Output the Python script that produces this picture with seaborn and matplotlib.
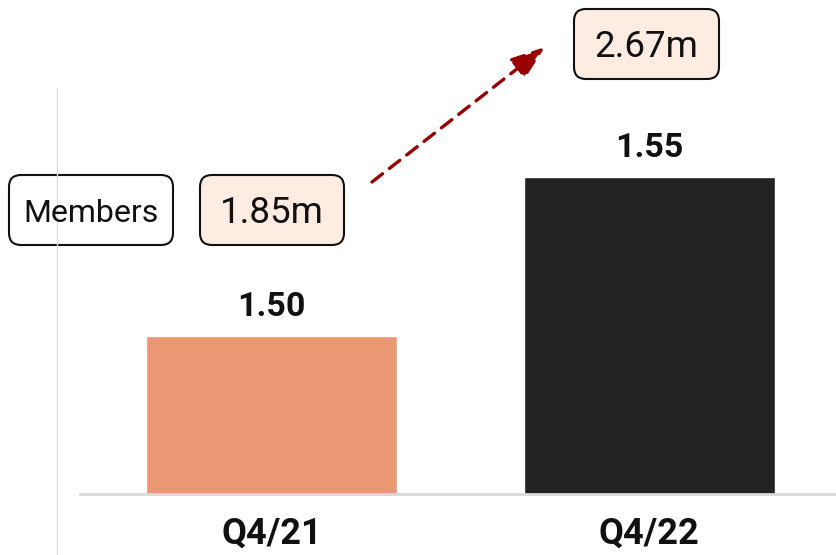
import matplotlib
matplotlib.use("Agg")
import matplotlib.pyplot as plt
from matplotlib import font_manager
from matplotlib.patches import FancyBboxPatch
from matplotlib.lines import Line2D
from matplotlib.transforms import IdentityTransform
import seaborn as sns

# ---- data ----
quarters = ["Q4/21", "Q4/22"]
values = [1.50, 1.55]
value_labels = ["1.50", "1.55"]
bar_colors = ["#EA9874", "#222222"]
legend_label = "Members"
members_start = "1.85m"
members_end = "2.67m"

sns.set_theme(style="white")
plt.rcParams["font.family"] = ["Roboto", "DejaVu Sans"]

names = {f.name for f in font_manager.fontManager.ttflist}
narrow = "Liberation Sans Narrow" if "Liberation Sans Narrow" in names else "Roboto"

W, H = 836, 555
fig = plt.figure(figsize=(W / 100, H / 100), dpi=100)
ax = fig.add_axes([80 / W, (H - 493.5) / H, (W - 80) / W, 493.5 / H])

sns.barplot(x=quarters, y=values, hue=quarters, palette=bar_colors,
            width=0.665, ax=ax, legend=False, saturation=1)
ax.set_xlim(-0.507, 1.495)
ax.set_ylim(1.4506, 1.6058)

for s in ["top", "right", "left"]:
    ax.spines[s].set_visible(False)
ax.spines["bottom"].set_color("#d9d9d9")
ax.spines["bottom"].set_linewidth(2)
ax.set_yticks([])
ax.set_xlabel("")
ax.set_ylabel("")
ax.tick_params(axis="x", length=0, pad=16)
for lab in ax.get_xticklabels():
    lab.set_fontfamily([narrow, "DejaVu Sans"])
    lab.set_fontweight("bold")
    lab.set_fontsize(26)
    lab.set_color("#111111")

for i, (v, t) in enumerate(zip(values, value_labels)):
    ax.annotate(t, (i, v), xytext=(0, 14.5), textcoords="offset points",
                ha="center", va="baseline", fontsize=24.5, fontweight="bold",
                color="#111111")

# faint vertical guide line
fig.add_artist(Line2D([57, 57], [0, H - 88], transform=IdentityTransform(),
                      color="#dddddd", lw=1))

def box(x0, y0, x1, y1, text, fc, fs):
    p = FancyBboxPatch((x0, H - y1), x1 - x0, y1 - y0,
                       boxstyle="round,pad=0,rounding_size=12",
                       transform=IdentityTransform(), fc=fc, ec="#111111", lw=1.5)
    fig.add_artist(p)
    fig.text((x0 + x1) / 2 / W, 1 - ((y0 + y1) / 2 + 3) / H, text, ha="center",
             va="center", fontsize=fs, color="#111111")

box(9, 175, 173, 245, legend_label, "white", 23)
box(200, 175, 344, 245, members_start, "#FDECE1", 26.5)
box(574, 9, 719, 79, members_end, "#FDECE1", 26.5)

ax.annotate("", xy=(545, H - 47), xytext=(372, H - 182),
            xycoords=IdentityTransform(), textcoords=IdentityTransform(),
            arrowprops=dict(arrowstyle="-|>,head_length=0.7,head_width=0.25",
                            mutation_scale=30, color="#990000", lw=2.4,
                            linestyle=(0, (4, 2.6)), shrinkA=0, shrinkB=0))

fig.savefig("out.png", dpi=100)
